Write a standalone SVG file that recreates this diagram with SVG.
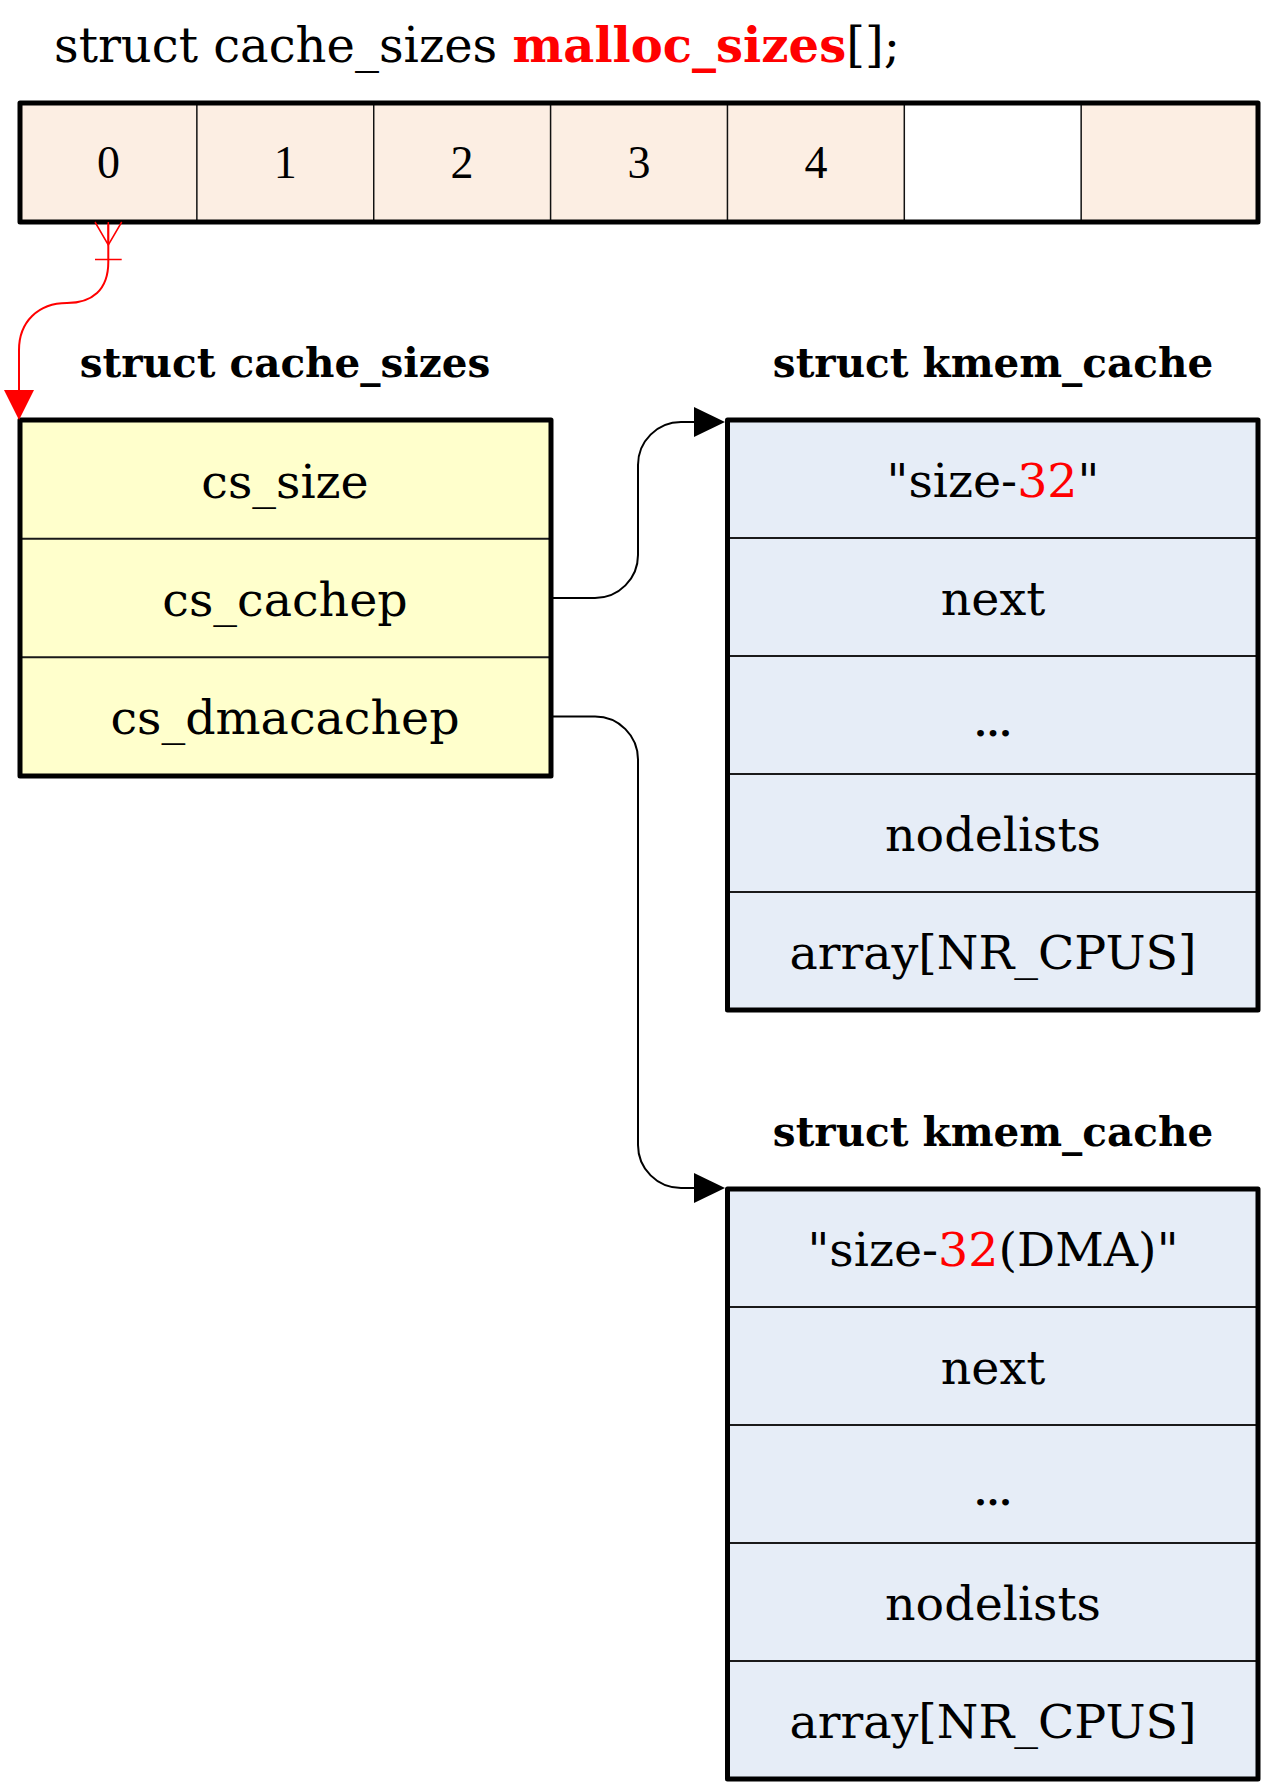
<svg xmlns="http://www.w3.org/2000/svg" width="1264" height="1782" viewBox="0 0 1264 1782">
<defs>
<style>
.t{font-family:"DejaVu Serif","Liberation Serif",serif;fill:#000}
.f{font-size:47.5px;text-anchor:middle}
.h{font-size:40.5px;font-weight:bold;text-anchor:middle}
.d{font-family:"Liberation Serif",serif;font-size:46px;text-anchor:middle;fill:#000}
.dots{font-size:36px;font-weight:bold;text-anchor:middle}
.outer{fill:none;stroke:#000;stroke-width:5;stroke-linejoin:round}
.div{stroke:#1a1a1a;stroke-width:2}
.adiv{stroke:#111;stroke-width:1.5}
.peach{fill:#FCEEE3}
.conn{fill:none;stroke:#000;stroke-width:2}
.red{fill:none;stroke:#f00;stroke-width:2}
.red1{fill:none;stroke:#f00;stroke-width:1.5}
.rt{fill:#f00}
</style>
<marker id="ab" markerUnits="userSpaceOnUse" viewBox="0 0 31 30" refX="2" refY="15" markerWidth="31" markerHeight="30" orient="auto">
<path d="M0,0 L31,15 L0,30 z" fill="#000"/>
</marker>
<marker id="ar" markerUnits="userSpaceOnUse" viewBox="0 0 30 30" refX="2" refY="15" markerWidth="30" markerHeight="30" orient="auto">
<path d="M0,0 L30,15 L0,30 z" fill="#f00"/>
</marker>
</defs>
<rect width="1264" height="1782" fill="#fff"/>

<g id="title">
<text class="t" x="54" y="62" font-size="48">struct cache_sizes <tspan class="rt" font-weight="bold">malloc_sizes</tspan>[];</text>
</g>

<g id="malloc_sizes">
<rect class="peach" x="20" y="103" width="884.3" height="119"/>
<rect fill="#fff" x="904.3" y="103" width="176.86" height="119"/>
<rect class="peach" x="1081.16" y="103" width="176.84" height="119"/>
<line class="adiv" x1="196.86" y1="103" x2="196.86" y2="222"/>
<line class="adiv" x1="373.72" y1="103" x2="373.72" y2="222"/>
<line class="adiv" x1="550.58" y1="103" x2="550.58" y2="222"/>
<line class="adiv" x1="727.44" y1="103" x2="727.44" y2="222"/>
<line class="adiv" x1="904.3" y1="103" x2="904.3" y2="222"/>
<line class="adiv" x1="1081.16" y1="103" x2="1081.16" y2="222"/>
<rect class="outer" x="20" y="103" width="1238" height="119"/>
<text class="d" x="108.4" y="178">0</text>
<text class="d" x="285.3" y="178">1</text>
<text class="d" x="462.1" y="178">2</text>
<text class="d" x="639" y="178">3</text>
<text class="d" x="815.9" y="178">4</text>
</g>

<g id="cache_sizes">
<text class="t h" x="285" y="377">struct cache_sizes</text>
<rect fill="#FFFFCC" x="20" y="420" width="531" height="356"/>
<line class="div" x1="20" y1="538.7" x2="551" y2="538.7"/>
<line class="div" x1="20" y1="657.3" x2="551" y2="657.3"/>
<rect class="outer" x="20" y="420" width="531" height="356"/>
<text class="t f" x="285" y="498">cs_size</text>
<text class="t f" x="285" y="616">cs_cachep</text>
<text class="t f" x="285" y="734">cs_dmacachep</text>
</g>

<g id="kmem_cache_32">
<text class="t h" x="993" y="377">struct kmem_cache</text>
<rect fill="#E6EDF7" x="727.5" y="420" width="530.5" height="590"/>
<line class="div" x1="727.5" y1="538" x2="1258" y2="538"/>
<line class="div" x1="727.5" y1="656" x2="1258" y2="656"/>
<line class="div" x1="727.5" y1="774" x2="1258" y2="774"/>
<line class="div" x1="727.5" y1="892" x2="1258" y2="892"/>
<rect class="outer" x="727.5" y="420" width="530.5" height="590"/>
<text class="t f" x="993" y="497">"size-<tspan class="rt">32</tspan>"</text>
<text class="t f" x="993" y="615">next</text>
<text class="t dots" x="993" y="736">...</text>
<text class="t f" x="993" y="851">nodelists</text>
<text class="t f" x="993" y="969">array[NR_CPUS]</text>
</g>

<g id="kmem_cache_32_dma">
<text class="t h" x="993" y="1146">struct kmem_cache</text>
<rect fill="#E6EDF7" x="727.5" y="1189" width="530.5" height="590"/>
<line class="div" x1="727.5" y1="1307" x2="1258" y2="1307"/>
<line class="div" x1="727.5" y1="1425" x2="1258" y2="1425"/>
<line class="div" x1="727.5" y1="1543" x2="1258" y2="1543"/>
<line class="div" x1="727.5" y1="1661" x2="1258" y2="1661"/>
<rect class="outer" x="727.5" y="1189" width="530.5" height="590"/>
<text class="t f" x="993" y="1266">"size-<tspan class="rt">32</tspan>(DMA)"</text>
<text class="t f" x="993" y="1384">next</text>
<text class="t dots" x="993" y="1505">...</text>
<text class="t f" x="993" y="1620">nodelists</text>
<text class="t f" x="993" y="1738">array[NR_CPUS]</text>
</g>

<g id="connectors">
<path class="conn" d="M551,598 H595 A43,43 0 0 0 638,555 V465 A43,43 0 0 1 681,422 H696" marker-end="url(#ab)"/>
<path class="conn" d="M551,716.5 H595 A43,43 0 0 1 638,759.5 V1145 A43,43 0 0 0 681,1188 H696" marker-end="url(#ab)"/>
<path class="red" d="M108.3,224 V262 C108.3,290 92,303 67,303 C38,303 19,322 19,350 V392" marker-end="url(#ar)"/>
<path class="red1" d="M95,222 L108.3,245 L121.7,222 M108.3,222 V245 M95,259.5 H121.7"/>
</g>
</svg>
